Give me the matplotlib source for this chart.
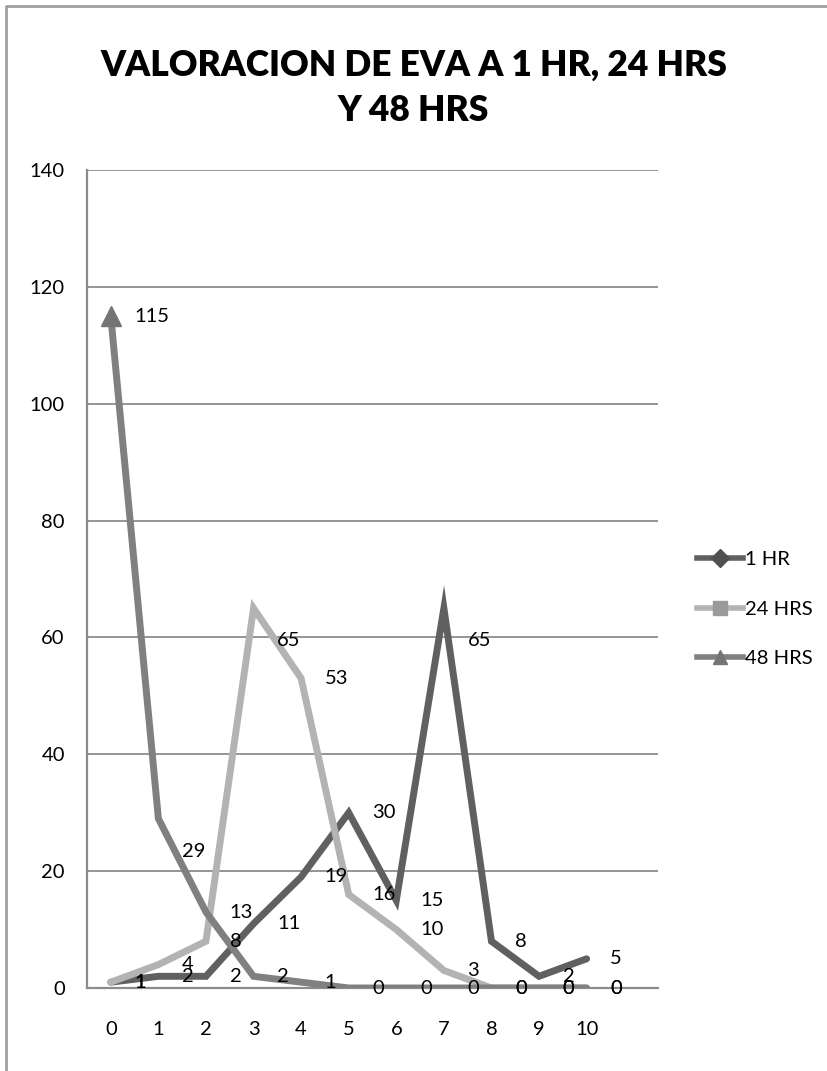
import matplotlib
matplotlib.use("Agg")
import matplotlib.pyplot as plt
from matplotlib.lines import Line2D

plt.rcParams['font.family'] = ['Lato', 'DejaVu Sans']

# data
categories = [0, 1, 2, 3, 4, 5, 6, 7, 8, 9, 10]
hr1 = [1, 2, 2, 11, 19, 30, 15, 65, 8, 2, 5]
hrs24 = [1, 4, 8, 65, 53, 16, 10, 3, 0, 0, 0]
hrs48 = [115, 29, 13, 2, 1, 0, 0, 0, 0, 0, 0]
series_names = ['1 HR', '24 HRS', '48 HRS']

line_colors = ['#606060', '#b3b3b3', '#808080']
marker_colors = ['#505050', '#9a9a9a', '#747474']
markers = ['D', 's', '^']

# a few labels were pushed off their points in the original
label_nudge = {(1, 3): -32, (0, 7): -32, (2, 1): -33}

fig = plt.figure(figsize=(8.27, 10.71), dpi=100)
ax = fig.add_axes([87 / 827, 1 - 988 / 1071, (658 - 87) / 827, (988 - 170) / 1071])

grid_col = '#8c8c8c'
for y in range(20, 141, 20):
    ax.axhline(y, color=grid_col, lw=1.3, zorder=0)

all_series = [hr1, hrs24, hrs48]
for i, vals in enumerate(all_series):
    ax.plot(categories, vals, color=line_colors[i], lw=5,
            solid_joinstyle='miter', solid_capstyle='round', zorder=2 + i)

# triangle that shows at the top of the 48 hrs line
ax.plot(categories[0], hrs48[0], marker='^', ms=14, color=marker_colors[2],
        ls='none', zorder=6)

for i, vals in enumerate(all_series):
    for j, v in enumerate(vals):
        dy = label_nudge.get((i, j), 0)
        ax.annotate(str(v), (categories[j], v), xytext=(17, dy * 0.72),
                    textcoords='offset points', ha='left', va='center',
                    fontsize=14.5, color='black', zorder=10)

ax.set_xlim(-0.5, 11.5)
ax.set_ylim(0, 140)
ax.set_xticks(categories)
ax.set_yticks(range(0, 141, 20))
ax.tick_params(axis='both', length=0, labelsize=14.5, colors='black')
ax.tick_params(axis='x', pad=24)
ax.tick_params(axis='y', pad=16)

for side in ['top', 'right']:
    ax.spines[side].set_visible(False)
for side in ['left', 'bottom']:
    ax.spines[side].set_color(grid_col)
    ax.spines[side].set_linewidth(1.6)

handles = [Line2D([], [], color=line_colors[i], lw=4, marker=markers[i],
                  ms=10 if i else 9, markerfacecolor=marker_colors[i],
                  markeredgecolor=marker_colors[i]) for i in range(3)]
fig.legend(handles, series_names, loc='center left',
           bbox_to_anchor=(687 / 827, 1 - 609 / 1071), frameon=False,
           fontsize=14.5, handlelength=2.3, handletextpad=0.1,
           labelspacing=1.6, borderpad=0)

fig.text(0.5, 1 - 88 / 1071, 'VALORACION DE EVA A 1 HR, 24 HRS\nY 48 HRS',
         ha='center', va='center', fontsize=25.5, fontweight='heavy',
         linespacing=1.45)

# outer chart frame (only left and top edges are inside the picture)
fig.add_artist(Line2D([6 / 827, 6 / 827, 1], [0, 1 - 6 / 1071, 1 - 6 / 1071],
                      color='#a0a0a0', lw=2, transform=fig.transFigure))

fig.savefig('out.png', dpi=100)
